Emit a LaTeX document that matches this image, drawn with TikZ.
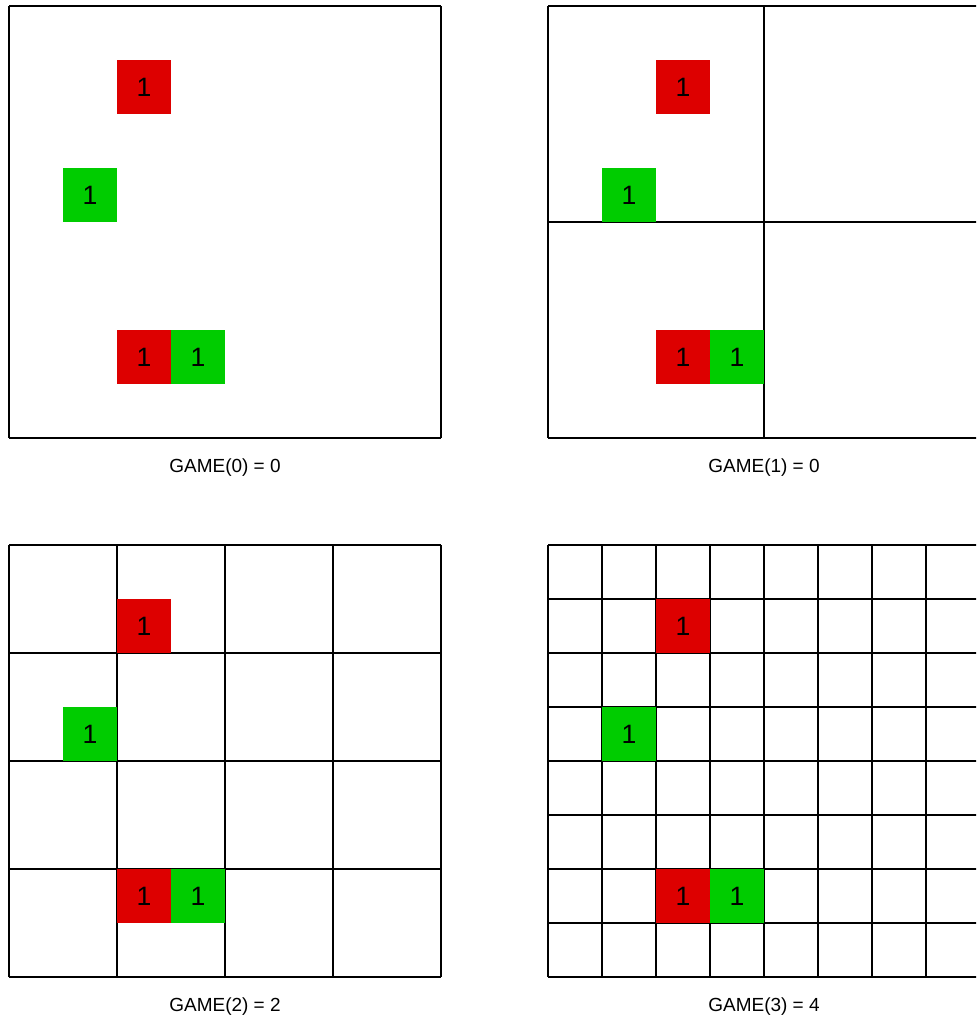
\documentclass[tikz,border=0pt]{standalone}
\usepackage{fontspec}
\setmainfont{Liberation Sans}
\definecolor{cellred}{RGB}{221,0,0}
\definecolor{cellgreen}{RGB}{0,204,0}

\begin{document}
\begin{tikzpicture}[
    gridline/.style={line width=0.8pt, black},
    redcell/.style={rectangle, fill=cellred, minimum size=1cm, inner sep=0pt, font=\fontsize{14}{16}\selectfont},
    greencell/.style={rectangle, fill=cellgreen, minimum size=1cm, inner sep=0pt, font=\fontsize{14}{16}\selectfont},
    caption/.style={font=\fontsize{10}{12}\selectfont}
]
\useasboundingbox (0,0) rectangle (18.074,18.907);
\clip (0,0) rectangle (18.074,18.907);

% one panel per level: index / left / bottom / step / value
\foreach \k/\px/\py/\st/\val in {0/0.167/10.796/8/0, 1/10.148/10.796/4/0, 2/0.167/0.814/2/2, 3/10.148/0.814/1/4} {
  \begin{scope}[shift={(\px,\py)}]
    % grid of the level
    \draw[gridline, step=\st] (0,0) grid (8,8);
    % cells
    \node[redcell] (redtop-\k) at (2.5,6.5) {1};
    \node[greencell] (greenmid-\k) at (1.5,4.5) {1};
    \node[redcell] (redlow-\k) at (2.5,1.5) {1};
    \node[greencell] (greenlow-\k) at (3.5,1.5) {1};
    % caption
    \node[caption] (game-\k) at (4,-0.55) {GAME(\k) = \val};
  \end{scope}
}

\end{tikzpicture}
\end{document}
